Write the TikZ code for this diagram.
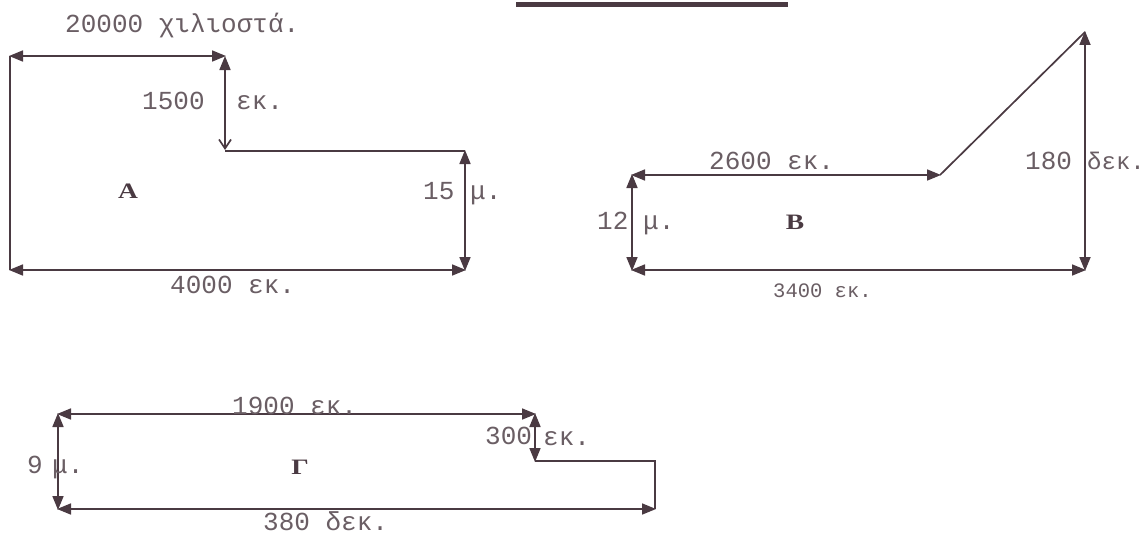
\documentclass[tikz,border=0pt]{standalone}
\usepackage{fontspec}
\setmainfont{Liberation Mono}
\newfontfamily\letterfont[FakeStretch=1.25]{Liberation Serif}
\usetikzlibrary{arrows.meta}
\definecolor{ink}{HTML}{4A3A42}
\definecolor{txt}{HTML}{6A5E64}
\tikzset{
  dim/.style={draw=ink,line width=1.7pt,{Triangle[length=14pt,width=11pt]}-{Triangle[length=14pt,width=11pt]},shorten >=-1pt,shorten <=-1pt},
  dimopen/.style={draw=ink,line width=1.7pt,{Triangle[length=14pt,width=11pt]}-{Straight Barb[length=9pt,width=12pt]}},
  edgeline/.style={draw=ink,line width=1.7pt},
  lab/.style={anchor=base west,inner sep=0pt,text=txt,font=\fontsize{26}{26}\selectfont},
  labwide/.style={anchor=base west,inner sep=0pt,text=txt,font=\fontsize{24}{24}\selectfont},
  labsmall/.style={anchor=base west,inner sep=0pt,text=txt,font=\fontsize{20.5}{20.5}\selectfont},
  letter/.style={inner sep=0pt,text=ink,font=\letterfont\fontsize{22}{22}\selectfont\bfseries},
  bar/.style={draw=ink,line width=5pt}
}
\begin{document}
\begin{tikzpicture}[x=1pt,y=-1pt]
\useasboundingbox (0,0) rectangle (1145,535);
\fill[white] (0,0) rectangle (1145,535);
% top bar
\coordinate (t1) at (516,5); \coordinate (t2) at (788,5);
\draw[bar] (t1) -- (t2);
% figure A
\coordinate (a1) at (10,56); \coordinate (a2) at (225,56);
\coordinate (a3) at (225,150); \coordinate (a3b) at (225,151); \coordinate (a4) at (465,151);
\coordinate (a5) at (465,270); \coordinate (a6) at (10,270);
\draw[dim] (a1) -- (a2);
\draw[dimopen] (a2) -- (a3);
\draw[edgeline] (a3b) -- (a4);
\draw[dim] (a4) -- (a5);
\draw[dim] (a6) -- (a5);
\draw[edgeline] (a1) -- (a6);
\node[lab] (la1) at (65,33) {20000 χιλιοστά.};
\node[lab] (la2) at (142,109) {1500};
\node[lab] (la3) at (236,109) {εκ.};
\node[lab] (la4) at (423,199) {15};
\node[lab] (la5) at (470,199) {μ.};
\node[lab] (la6) at (170,293) {4000 εκ.};
\node[letter] (na) at (128,191) {Α};
% figure B
\coordinate (b1) at (632,175); \coordinate (b2) at (940,175);
\coordinate (b3) at (1085,32); \coordinate (b4) at (1085,270); \coordinate (b5) at (632,270);
\draw[dim] (b1) -- (b2);
\draw[edgeline] (b2) -- (b3);
\draw[dim] (b3) -- (b4);
\draw[dim] (b5) -- (b4);
\draw[dim] (b1) -- (b5);
\node[lab] (lb1) at (709,169) {2600 εκ.};
\node[lab] (lb2) at (1025,169) {180};
\node[labwide] (lb3) at (1087,169) {δεκ.};
\node[lab] (lb4) at (597,229) {12};
\node[lab] (lb5) at (643,229) {μ.};
\node[labsmall] (lb6) at (773,297) {3400 εκ.};
\node[letter] (nb) at (795,222) {Β};
% figure C
\coordinate (c1) at (58,414); \coordinate (c2) at (535,414);
\coordinate (c3) at (535,461); \coordinate (c4) at (655,461);
\coordinate (c5) at (655,509); \coordinate (c6) at (58,509);
\draw[dim] (c1) -- (c2);
\draw[dim] (c2) -- (c3);
\draw[edgeline] (c3) -- (c4) -- (c5);
\draw[dim] (c6) -- (c5);
\draw[dim] (c1) -- (c6);
\node[lab] (lc1) at (232,414) {1900 εκ.};
\node[lab] (lc2) at (485,444) {300};
\node[lab] (lc3) at (543,445) {εκ.};
\node[lab] (lc4) at (27,473) {9};
\node[lab] (lc5) at (52,473) {μ.};
\node[lab] (lc6) at (263,530) {380 δεκ.};
\node[letter] (nc) at (300,467) {Γ};
\end{tikzpicture}
\end{document}
